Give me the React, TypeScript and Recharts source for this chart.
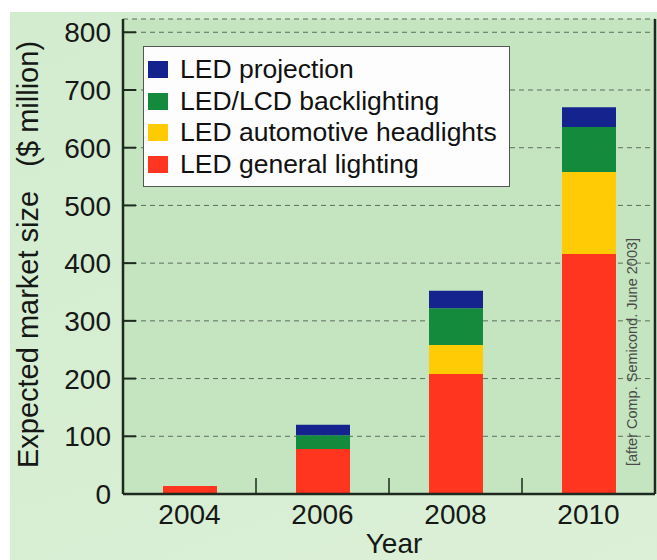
import React from 'react';
import { BarChart, Bar, XAxis, YAxis, CartesianGrid } from 'recharts';

const years = ['2004', '2006', '2008', '2010'];
const generalLighting = [14, 78, 208, 416];
const automotiveHeadlights = [0, 0, 50, 142];
const lcdBacklighting = [0, 24, 64, 78];
const ledProjection = [0, 18, 30, 34];
const yTicks = [0, 100, 200, 300, 400, 500, 600, 700, 800];
const yMax = 823;

const seriesKeys = ['general', 'automotive', 'backlighting', 'projection'];
const seriesNames: Record<string, string> = {
  general: 'LED general lighting',
  automotive: 'LED automotive headlights',
  backlighting: 'LED/LCD backlighting',
  projection: 'LED projection',
};
const seriesColors: Record<string, string> = {
  general: '#ff3520',
  automotive: '#ffcb05',
  backlighting: '#138a3c',
  projection: '#15238e',
};

const data = years.map((year, i) => ({
  year,
  general: generalLighting[i],
  automotive: automotiveHeadlights[i],
  backlighting: lcdBacklighting[i],
  projection: ledProjection[i],
}));

const FONT = '"Liberation Sans", Arial, Helvetica, sans-serif';
const AXIS = '#1d2a1d';
const TXT = '#161816';

function LeftTick(props: any) {
  const { x, y, payload } = props;
  return (
    <g>
      <text x={x} y={y} dy="0.36em" textAnchor="end" fontSize={28} fontFamily={FONT} fill={TXT}>
        {payload.value}
      </text>
      {payload.value > 0 && <line x1={x + 12} x2={x + 25} y1={y} y2={y} stroke={AXIS} strokeWidth={2} />}
    </g>
  );
}

function RightTick(props: any) {
  const { x, y, payload } = props;
  if (payload.value <= 0) return <g />;
  return <line x1={x - 10} x2={x} y1={y} y2={y} stroke={AXIS} strokeWidth={2} />;
}

function XTick(props: any) {
  const { x, y, payload, index, width } = props;
  const band = (width || 532) / years.length;
  return (
    <g>
      <text x={x} y={y + 30} textAnchor="middle" fontSize={28} fontFamily={FONT} fill={TXT}>
        {payload.value}
      </text>
      {index < years.length - 1 && (
        <line x1={x + band / 2} x2={x + band / 2} y1={y} y2={y - 16} stroke={AXIS} strokeWidth={1.5} />
      )}
    </g>
  );
}

function YTitle(props: any) {
  const vb = props.viewBox || { x: 10, y: 19, width: 113, height: 475 };
  const cx = vb.x + 28;
  const cy = vb.y + vb.height / 2 - 2;
  return (
    <text
      x={cx}
      y={cy}
      transform={`rotate(-90 ${cx} ${cy})`}
      textAnchor="middle"
      fontSize={29}
      fontFamily={FONT}
      fill={TXT}
      style={{ whiteSpace: 'pre' }}
    >
      {'Expected market size   ($ million)'}
    </text>
  );
}

function XTitle(props: any) {
  const vb = props.viewBox || { x: 123, y: 494, width: 532, height: 56 };
  return (
    <text x={vb.x + vb.width / 2 + 5} y={vb.y + 59} textAnchor="middle" fontSize={28} fontFamily={FONT} fill={TXT}>
      Year
    </text>
  );
}

function SourceNote(props: any) {
  const vb = props.viewBox || { x: 655, y: 19, width: 2, height: 475 };
  const cx = vb.x - 18;
  const cy = vb.y + 333;
  return (
    <text
      x={cx}
      y={cy}
      transform={`rotate(-90 ${cx} ${cy})`}
      textAnchor="middle"
      fontSize={14.5}
      fontFamily={FONT}
      fill="#4a4a4a"
    >
      [after Comp. Semicond. June 2003]
    </text>
  );
}

function LegendBox() {
  const order = [...seriesKeys].reverse();
  return (
    <div
      style={{
        position: 'absolute',
        left: 143,
        top: 46,
        width: 367,
        height: 141,
        background: '#fcfdfc',
        border: '1px solid #555',
        boxSizing: 'border-box',
        paddingTop: 7,
        fontFamily: FONT,
        fontSize: 26.5,
        color: '#111',
      }}
    >
      {order.map((k) => (
        <div key={k} style={{ display: 'flex', alignItems: 'center', height: 31.5, whiteSpace: 'nowrap' }}>
          <span
            style={{ display: 'inline-block', width: 20, height: 17, background: seriesColors[k], marginLeft: 4, marginRight: 12 }}
          />
          <span>{seriesNames[k]}</span>
        </div>
      ))}
    </div>
  );
}

export default function App() {
  return (
    <div style={{ position: 'absolute', left: 0, top: 0, width: 657, height: 560, background: '#ffffff', overflow: 'hidden' }}>
      <div
        style={{
          position: 'absolute',
          left: 10,
          top: 12,
          width: 647,
          height: 548,
          background: 'linear-gradient(160deg, #d3ecd0 0%, #d7eed3 60%, #dcf0d8 100%)',
        }}
      />
      <div style={{ position: 'absolute', left: 0, top: 0 }}>
        <BarChart width={657} height={560} data={data} margin={{ top: 19, right: 0, bottom: 10, left: 10 }}>
          <CartesianGrid
            vertical={false}
            fill="#c4e5c0"
            fillOpacity={1}
            stroke="#5d6e5d"
            strokeDasharray="5 4"
            strokeWidth={1}
          />
          <XAxis
            dataKey="year"
            height={56}
            tickSize={0}
            tickMargin={0}
            tick={<XTick />}
            axisLine={{ stroke: AXIS, strokeWidth: 2.5 }}
            tickLine={false}
            interval={0}
            label={<XTitle />}
          />
          <XAxis
            xAxisId="top"
            orientation="top"
            dataKey="year"
            height={0}
            tick={false}
            tickLine={false}
            axisLine={{ stroke: AXIS, strokeWidth: 2.5 }}
          />
          <YAxis
            width={113}
            domain={[0, yMax]}
            ticks={yTicks}
            tickSize={0}
            tickMargin={12}
            tick={<LeftTick />}
            tickLine={false}
            axisLine={{ stroke: AXIS, strokeWidth: 2.5 }}
            interval={0}
            label={<YTitle />}
          />
          <YAxis
            yAxisId="r"
            orientation="right"
            width={2}
            domain={[0, yMax]}
            ticks={yTicks}
            tickSize={0}
            tickMargin={0}
            tick={<RightTick />}
            tickLine={false}
            axisLine={{ stroke: AXIS, strokeWidth: 2.5 }}
            interval={0}
            label={<SourceNote />}
          />
          {seriesKeys.map((k) => (
            <Bar
              key={k}
              dataKey={k}
              name={seriesNames[k]}
              stackId="market"
              fill={seriesColors[k]}
              barSize={54}
              isAnimationActive={false}
            />
          ))}
        </BarChart>
      </div>
      <LegendBox />
    </div>
  );
}
